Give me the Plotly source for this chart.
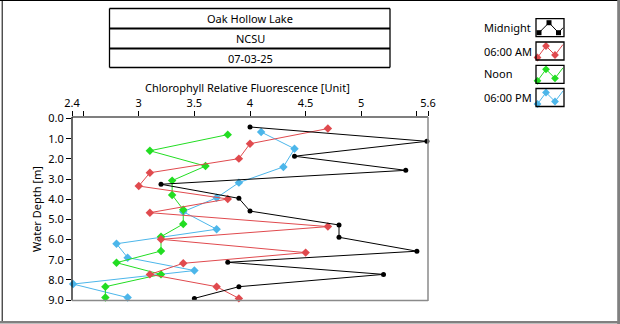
import plotly.graph_objects as go

W, H = 620, 324
FONT = "Noto Sans"
FS = 11

# ---- data ----
series_names = ["Midnight", "06:00 AM", "Noon", "06:00 PM"]
series_colors = ["#000000", "#E04A4E", "#22DD22", "#4CB6EA"]

midnight_val = [4.0, 5.59, 4.4, 5.4, 3.2, 3.9, 4.0, 4.8, 4.8, 5.5, 3.8, 5.2, 3.9, 3.5]
midnight_depth = [0.42, 1.13, 1.87, 2.57, 3.26, 3.96, 4.59, 5.28, 5.89, 6.58, 7.13, 7.73, 8.34, 8.92]

am6_val = [4.7, 4.0, 3.9, 3.1, 3.0, 3.8, 3.1, 4.7, 3.2, 4.5, 3.4, 3.1, 3.7, 3.9]
am6_depth = [0.50, 1.25, 1.99, 2.69, 3.35, 3.99, 4.67, 5.36, 5.99, 6.65, 7.18, 7.73, 8.34, 8.92]

noon_val = [3.8, 3.1, 3.6, 3.3, 3.3, 3.4, 3.4, 3.2, 3.2, 2.8, 3.2, 2.7, 2.7]
noon_depth = [0.80, 1.60, 2.36, 3.08, 3.79, 4.52, 5.23, 5.86, 6.57, 7.15, 7.73, 8.34, 8.88]

pm6_val = [4.1, 4.4, 4.3, 3.9, 3.7, 3.4, 3.7, 2.8, 2.9, 3.5, 2.41, 2.9]
pm6_depth = [0.67, 1.50, 2.40, 3.18, 3.93, 4.62, 5.49, 6.21, 6.90, 7.54, 8.21, 8.88]

x_tickvals = [2.4, 2.5, 3, 3.5, 4, 4.5, 5, 5.5, 5.6]
x_ticktext = ["2.4", "", "3", "3.5", "4", "4.5", "5", "", "5.6"]
y_tickvals = [0, 1, 2, 3, 4, 5, 6, 7, 8, 9]
y_ticktext = ["0.0", "1.0", "2.0", "3.0", "4.0", "5.0", "6.0", "7.0", "8.0", "9.0"]

title_lines = ["Oak Hollow Lake", "NCSU", "07-03-25"]
x_title = "Chlorophyll Relative Fluorescence [Unit]"
y_title = "Water Depth [m]"

# ---- layout constants (pixels) ----
PL, PR, PT, PB = 72, 428, 117, 300.5

fig = go.Figure()

data = [
    (pm6_val, pm6_depth, 3),
    (noon_val, noon_depth, 2),
    (am6_val, am6_depth, 1),
    (midnight_val, midnight_depth, 0),
]
for vals, depth, i in data:
    black = i == 0
    fig.add_trace(go.Scatter(
        x=vals, y=depth, mode="lines+markers", showlegend=False,
        line=dict(color=series_colors[i], width=1),
        marker=dict(color=series_colors[i], size=5 if black else 6.5,
                    symbol="circle" if black else "diamond", line=dict(width=0)),
        xaxis="x", yaxis="y", cliponaxis=False,
    ))

# legend icons on full-figure pixel overlay axis
icon_left = 536
row_tops = [18.7, 42.0, 65.3, 88.5]
for i, top in enumerate(row_tops):
    if i == 0:
        ix = [icon_left + 3, icon_left + 13, icon_left + 22.5, icon_left + 27]
        iy = [top + 14, top + 4, top + 14, top + 9]
    else:
        ix = [icon_left + 1.5, icon_left + 10, icon_left + 19, icon_left + 27]
        iy = [top + 15.5, top + 4, top + 13, top + 2.5]
    mk = [True, True, True, False]
    fig.add_trace(go.Scatter(
        x=ix, y=iy, mode="lines", showlegend=False,
        line=dict(color=series_colors[i], width=1), xaxis="x3", yaxis="y3",
        hoverinfo="skip"))
    fig.add_trace(go.Scatter(
        x=[a for a, m in zip(ix, mk) if m], y=[b for b, m in zip(iy, mk) if m],
        mode="markers", showlegend=False,
        marker=dict(color=series_colors[i], size=5 if i == 0 else 6,
                    symbol="square" if i == 0 else "diamond"),
        xaxis="x3", yaxis="y3", hoverinfo="skip"))

shapes = []
def line(x0, y0, x1, y1, color="black", width=1):
    shapes.append(dict(type="line", xref="x3", yref="y3", x0=x0, y0=y0, x1=x1, y1=y1,
                       line=dict(color=color, width=width), layer="above"))

# outer frame
line(0, 0.5, W, 0.5, "black", 1)
line(2.2, 0, 2.2, 322, "black", 1)
line(618.7, 0, 618.7, 324, "#808080", 3)
line(0, 322.2, 620, 322.2, "#808080", 2.5)

# plot frame
line(PL, PT, PR, PT, "black", 1.2)
line(PL, PT, PL, PB, "black", 1.2)
line(PR, PT, PR, PB + 0.5, "#8a8a8a", 1.5)
line(PL, PB, PR, PB, "#8a8a8a", 1.5)

# title boxes
BX0, BX1 = 109.5, 390
box_y = [8.5, 28.5, 48.5, 67.5]
line(BX0, box_y[0], BX1, box_y[0], "black", 1.3)
line(BX0, box_y[3], BX1, box_y[3], "black", 1.3)
line(BX0, box_y[0], BX0, box_y[3], "black", 1.3)
line(BX1, box_y[0], BX1, box_y[3], "black", 1.3)
line(BX0, box_y[1], BX1, box_y[1], "black", 2.2)
line(BX0, box_y[2], BX1, box_y[2], "black", 2.2)

# legend icon boxes
for top in row_tops:
    shapes.append(dict(type="rect", xref="x3", yref="y3", x0=icon_left, x1=icon_left + 28,
                       y0=top, y1=top + 18, line=dict(color="black", width=1.3), layer="above"))

annotations = []
def text(t, x, y, xanchor="center", angle=0, size=FS):
    annotations.append(dict(text=t, x=x, y=y, xref="x3", yref="y3", showarrow=False,
                            xanchor=xanchor, yanchor="middle", textangle=angle,
                            font=dict(family=FONT, size=size, color="black")))

for t, yc in zip(title_lines, [18.0, 38.3, 58.0]):
    text(t, 250, yc)
text(x_title, 247, 87.5)
text(y_title, 36, 209, angle=-90)
for name, yc in zip(series_names, [27.7, 51.0, 73.5, 97.3]):
    text(name, 482, yc, xanchor="left")

fig.update_layout(
    template="none",
    width=W, height=H, margin=dict(l=0, r=0, t=0, b=0, pad=0, autoexpand=False),
    paper_bgcolor="white", plot_bgcolor="rgba(0,0,0,0)", showlegend=False,
    xaxis=dict(domain=[PL / W, PR / W], range=[2.4, 5.6], side="top", automargin=False,
               tickvals=x_tickvals, ticktext=x_ticktext, ticks="outside", ticklen=5,
               tickcolor="black", showgrid=False, zeroline=False, showline=False,
               tickfont=dict(family=FONT, size=FS, color="black"), anchor="y"),
    yaxis=dict(domain=[1 - PB / H, 1 - PT / H], range=[9.025, -0.075], automargin=False,
               tickvals=y_tickvals, ticktext=y_ticktext, ticks="outside", ticklen=5,
               tickcolor="black", showgrid=False, zeroline=False, showline=False,
               tickfont=dict(family=FONT, size=FS, color="black"), anchor="x"),
    xaxis3=dict(domain=[0, 1], range=[0, W], visible=False, anchor="y3", fixedrange=True,
                automargin=False),
    yaxis3=dict(domain=[0, 1], range=[H, 0], visible=False, anchor="x3", fixedrange=True,
                automargin=False),
    shapes=shapes, annotations=annotations,
)

fig.write_html("out.html", config={"responsive": False, "displayModeBar": False})
